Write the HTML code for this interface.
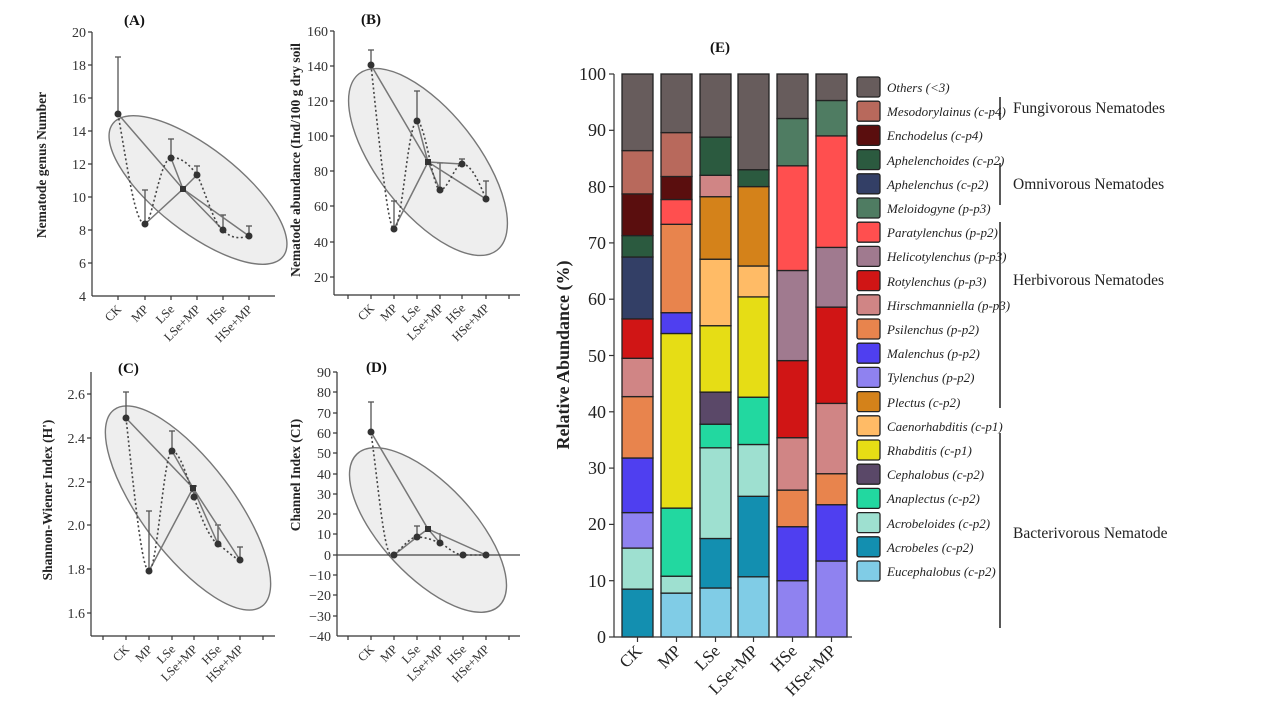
<!DOCTYPE html>
<html><head><meta charset="utf-8"><style>
html,body{margin:0;padding:0;background:#fff;}
svg{display:block;font-family:"Liberation Serif",serif;}
.t{font-size:14px;fill:#333;}
.xl{font-size:12.5px;fill:#333;}
.yl{font-size:13.5px;font-weight:bold;fill:#222;}
.ti{font-size:15px;font-weight:bold;fill:#111;}
.ax{stroke:#333;stroke-width:1.2;fill:none;}
.el{fill:#eeeeee;stroke:#777;stroke-width:1.4;}
.sl{stroke:#777;stroke-width:1.5;fill:none;}
.dl{stroke:#444;stroke-width:1.6;fill:none;stroke-dasharray:2,2.5;}
.eb{stroke:#555;stroke-width:1.3;}
.pt{fill:#333;}
.bar rect,.lg rect{stroke:#222;stroke-width:1.3;}
.oth{fill:#675c5c}.mes{fill:#b8695c}.enc{fill:#5a0e0e}.aph2{fill:#2b5a3f}.aph{fill:#333f66}.mel{fill:#4f7c62}.par{fill:#ff4f4f}.hel{fill:#a07a8f}.rot{fill:#d01515}.hir{fill:#d08585}.psi{fill:#e8844d}.mal{fill:#4f3ff0}.tyl{fill:#8f82f0}.ple{fill:#d4821a}.cae{fill:#ffbb66}.rha{fill:#e6dd15}.cep{fill:#5a4868}.ana{fill:#22d8a0}.acr2{fill:#9ee0d0}.acr{fill:#138fb0}.euc{fill:#80cce6}
.lt{font-size:13px;font-style:italic;fill:#222;}
.gt{font-size:15.5px;fill:#222;}
.et{font-size:18px;fill:#222;}
.ex{font-size:17px;fill:#222;}
</style></head><body>
<svg width="1267" height="713" viewBox="0 0 1267 713">
<!-- Panel A -->
<text class="ti" x="124" y="25">(A)</text>
<ellipse class="el" cx="198" cy="190" rx="108" ry="42" transform="rotate(38 198 190)"/>
<line class="ax" x1="92" y1="32" x2="92" y2="296"/><line class="ax" x1="92" y1="296" x2="275" y2="296"/>
<g class="ax"><line x1="88" y1="32" x2="92" y2="32"/><line x1="88" y1="65" x2="92" y2="65"/><line x1="88" y1="98" x2="92" y2="98"/><line x1="88" y1="131" x2="92" y2="131"/><line x1="88" y1="164" x2="92" y2="164"/><line x1="88" y1="197" x2="92" y2="197"/><line x1="88" y1="230" x2="92" y2="230"/><line x1="88" y1="263" x2="92" y2="263"/><line x1="118" y1="296" x2="118" y2="300"/><line x1="145" y1="296" x2="145" y2="300"/><line x1="171" y1="296" x2="171" y2="300"/><line x1="197" y1="296" x2="197" y2="300"/><line x1="223" y1="296" x2="223" y2="300"/><line x1="249" y1="296" x2="249" y2="300"/></g>
<g class="t" text-anchor="end"><text x="86" y="37">20</text><text x="86" y="70">18</text><text x="86" y="103">16</text><text x="86" y="136">14</text><text x="86" y="169">12</text><text x="86" y="202">10</text><text x="86" y="235">8</text><text x="86" y="268">6</text><text x="86" y="301">4</text></g>
<text class="yl" transform="translate(46,165) rotate(-90)" text-anchor="middle">Nematode genus Number</text>
<g class="eb"><line x1="118" y1="114" x2="118" y2="57"/><line x1="115" y1="57" x2="121" y2="57"/><line x1="145" y1="224" x2="145" y2="190"/><line x1="142" y1="190" x2="148" y2="190"/><line x1="171" y1="158" x2="171" y2="139"/><line x1="168" y1="139" x2="174" y2="139"/><line x1="197" y1="175" x2="197" y2="166"/><line x1="194" y1="166" x2="200" y2="166"/><line x1="223" y1="230" x2="223" y2="215"/><line x1="220" y1="215" x2="226" y2="215"/><line x1="249" y1="236" x2="249" y2="226"/><line x1="246" y1="226" x2="252" y2="226"/></g>
<path class="sl" d="M118 114L183 189L249 236M145 224L183 189L171 158M183 189L197 175M183 189L223 230"/>
<path class="dl" d="M118 114C128 170 135 224 145 224C152 224 160 158 171 158C182 156 192 168 197 175C205 190 214 225 223 230C232 240 242 238 249 236"/>
<g class="pt"><circle cx="118" cy="114" r="3.5"/><circle cx="145" cy="224" r="3.5"/><circle cx="171" cy="158" r="3.5"/><circle cx="197" cy="175" r="3.5"/><circle cx="223" cy="230" r="3.5"/><circle cx="249" cy="236" r="3.5"/><rect x="180" y="186" width="6" height="6"/></g>
<g class="xl" text-anchor="end"><text transform="translate(122,310) rotate(-45)">CK</text><text transform="translate(149,310) rotate(-45)">MP</text><text transform="translate(175,310) rotate(-45)">LSe</text><text transform="translate(201,310) rotate(-45)">LSe+MP</text><text transform="translate(227,310) rotate(-45)">HSe</text><text transform="translate(253,310) rotate(-45)">HSe+MP</text></g>

<!-- Panel B -->
<text class="ti" x="361" y="24">(B)</text>
<ellipse class="el" cx="428" cy="162" rx="112" ry="50" transform="rotate(52 428 162)"/>
<line class="ax" x1="334" y1="31" x2="334" y2="295"/><line class="ax" x1="334" y1="295" x2="520" y2="295"/>
<g class="ax"><line x1="330" y1="31" x2="334" y2="31"/><line x1="330" y1="66" x2="334" y2="66"/><line x1="330" y1="101" x2="334" y2="101"/><line x1="330" y1="136" x2="334" y2="136"/><line x1="330" y1="171" x2="334" y2="171"/><line x1="330" y1="206" x2="334" y2="206"/><line x1="330" y1="242" x2="334" y2="242"/><line x1="330" y1="277" x2="334" y2="277"/><line x1="348" y1="295" x2="348" y2="299"/><line x1="371" y1="295" x2="371" y2="299"/><line x1="394" y1="295" x2="394" y2="299"/><line x1="417" y1="295" x2="417" y2="299"/><line x1="440" y1="295" x2="440" y2="299"/><line x1="462" y1="295" x2="462" y2="299"/><line x1="486" y1="295" x2="486" y2="299"/><line x1="509" y1="295" x2="509" y2="299"/></g>
<g class="t" text-anchor="end"><text x="328" y="36">160</text><text x="328" y="71">140</text><text x="328" y="106">120</text><text x="328" y="141">100</text><text x="328" y="176">80</text><text x="328" y="211">60</text><text x="328" y="247">40</text><text x="328" y="282">20</text></g>
<text class="yl" transform="translate(300,160) rotate(-90)" text-anchor="middle">Nematode abundance (Ind/100 g dry soil</text>
<g class="eb"><line x1="371" y1="65" x2="371" y2="50"/><line x1="368" y1="50" x2="374" y2="50"/><line x1="394" y1="229" x2="394" y2="201"/><line x1="391" y1="201" x2="397" y2="201"/><line x1="417" y1="121" x2="417" y2="91"/><line x1="414" y1="91" x2="420" y2="91"/><line x1="440" y1="190" x2="440" y2="163"/><line x1="437" y1="163" x2="443" y2="163"/><line x1="462" y1="164" x2="462" y2="159"/><line x1="459" y1="159" x2="465" y2="159"/><line x1="486" y1="199" x2="486" y2="181"/><line x1="483" y1="181" x2="489" y2="181"/></g>
<path class="sl" d="M371 65L428 162L486 199M394 229L428 162L417 121M428 162L440 190M428 162L462 164"/>
<path class="dl" d="M371 65C380 150 388 229 394 229C402 229 408 121 417 121C425 121 433 190 440 190C448 190 455 164 462 164C472 164 480 185 486 199"/>
<g class="pt"><circle cx="371" cy="65" r="3.5"/><circle cx="394" cy="229" r="3.5"/><circle cx="417" cy="121" r="3.5"/><circle cx="440" cy="190" r="3.5"/><circle cx="462" cy="164" r="3.5"/><circle cx="486" cy="199" r="3.5"/><rect x="425" y="159" width="6" height="6"/></g>
<g class="xl" text-anchor="end"><text transform="translate(375,309) rotate(-45)">CK</text><text transform="translate(398,309) rotate(-45)">MP</text><text transform="translate(421,309) rotate(-45)">LSe</text><text transform="translate(444,309) rotate(-45)">LSe+MP</text><text transform="translate(466,309) rotate(-45)">HSe</text><text transform="translate(490,309) rotate(-45)">HSe+MP</text></g>

<!-- Panel C -->
<text class="ti" x="118" y="373">(C)</text>
<ellipse class="el" cx="188" cy="508" rx="123" ry="46" transform="rotate(53 188 508)"/>
<line class="ax" x1="91" y1="372" x2="91" y2="636"/><line class="ax" x1="91" y1="636" x2="275" y2="636"/>
<g class="ax"><line x1="87" y1="394" x2="91" y2="394"/><line x1="87" y1="438" x2="91" y2="438"/><line x1="87" y1="482" x2="91" y2="482"/><line x1="87" y1="525" x2="91" y2="525"/><line x1="87" y1="569" x2="91" y2="569"/><line x1="87" y1="613" x2="91" y2="613"/><line x1="103" y1="636" x2="103" y2="640"/><line x1="126" y1="636" x2="126" y2="640"/><line x1="149" y1="636" x2="149" y2="640"/><line x1="172" y1="636" x2="172" y2="640"/><line x1="194" y1="636" x2="194" y2="640"/><line x1="218" y1="636" x2="218" y2="640"/><line x1="240" y1="636" x2="240" y2="640"/><line x1="263" y1="636" x2="263" y2="640"/></g>
<g class="t" text-anchor="end"><text x="85" y="399">2.6</text><text x="85" y="443">2.4</text><text x="85" y="487">2.2</text><text x="85" y="530">2.0</text><text x="85" y="574">1.8</text><text x="85" y="618">1.6</text></g>
<text class="yl" transform="translate(52,500) rotate(-90)" text-anchor="middle">Shannon-Wiener Index (H')</text>
<g class="eb"><line x1="126" y1="418" x2="126" y2="392"/><line x1="123" y1="392" x2="129" y2="392"/><line x1="149" y1="571" x2="149" y2="511"/><line x1="146" y1="511" x2="152" y2="511"/><line x1="172" y1="451" x2="172" y2="431"/><line x1="169" y1="431" x2="175" y2="431"/><line x1="194" y1="497" x2="194" y2="486"/><line x1="191" y1="486" x2="197" y2="486"/><line x1="218" y1="544" x2="218" y2="525"/><line x1="215" y1="525" x2="221" y2="525"/><line x1="240" y1="560" x2="240" y2="547"/><line x1="237" y1="547" x2="243" y2="547"/></g>
<path class="sl" d="M126 418L193 488L240 560M149 571L193 488L172 451M193 488L194 497M193 488L218 544"/>
<path class="dl" d="M126 418C135 500 142 571 149 571C157 571 164 451 172 451C180 451 188 480 194 497C200 515 210 540 218 544C226 550 234 558 240 560"/>
<g class="pt"><circle cx="126" cy="418" r="3.5"/><circle cx="149" cy="571" r="3.5"/><circle cx="172" cy="451" r="3.5"/><circle cx="194" cy="497" r="3.5"/><circle cx="218" cy="544" r="3.5"/><circle cx="240" cy="560" r="3.5"/><rect x="190" y="485" width="6" height="6"/></g>
<g class="xl" text-anchor="end"><text transform="translate(130,650) rotate(-45)">CK</text><text transform="translate(153,650) rotate(-45)">MP</text><text transform="translate(176,650) rotate(-45)">LSe</text><text transform="translate(198,650) rotate(-45)">LSe+MP</text><text transform="translate(222,650) rotate(-45)">HSe</text><text transform="translate(244,650) rotate(-45)">HSe+MP</text></g>

<!-- Panel D -->
<text class="ti" x="366" y="372">(D)</text>
<ellipse class="el" cx="428" cy="530" rx="104" ry="46" transform="rotate(47 428 530)"/>
<line class="ax" x1="337" y1="372" x2="337" y2="636"/><line class="ax" x1="337" y1="636" x2="520" y2="636"/>
<line x1="337" y1="555" x2="520" y2="555" stroke="#444" stroke-width="1.3"/>
<g class="ax"><line x1="333" y1="372" x2="337" y2="372"/><line x1="333" y1="392" x2="337" y2="392"/><line x1="333" y1="413" x2="337" y2="413"/><line x1="333" y1="433" x2="337" y2="433"/><line x1="333" y1="453" x2="337" y2="453"/><line x1="333" y1="474" x2="337" y2="474"/><line x1="333" y1="494" x2="337" y2="494"/><line x1="333" y1="514" x2="337" y2="514"/><line x1="333" y1="534" x2="337" y2="534"/><line x1="333" y1="555" x2="337" y2="555"/><line x1="333" y1="575" x2="337" y2="575"/><line x1="333" y1="595" x2="337" y2="595"/><line x1="333" y1="616" x2="337" y2="616"/><line x1="348" y1="636" x2="348" y2="640"/><line x1="371" y1="636" x2="371" y2="640"/><line x1="394" y1="636" x2="394" y2="640"/><line x1="417" y1="636" x2="417" y2="640"/><line x1="440" y1="636" x2="440" y2="640"/><line x1="463" y1="636" x2="463" y2="640"/><line x1="486" y1="636" x2="486" y2="640"/><line x1="509" y1="636" x2="509" y2="640"/></g>
<g class="t" text-anchor="end"><text x="331" y="377">90</text><text x="331" y="397">80</text><text x="331" y="418">70</text><text x="331" y="438">60</text><text x="331" y="458">50</text><text x="331" y="479">40</text><text x="331" y="499">30</text><text x="331" y="519">20</text><text x="331" y="539">10</text><text x="331" y="560">0</text><text x="331" y="580">−10</text><text x="331" y="600">−20</text><text x="331" y="621">−30</text><text x="331" y="641">−40</text></g>
<text class="yl" transform="translate(300,475) rotate(-90)" text-anchor="middle">Channel Index (CI)</text>
<g class="eb"><line x1="371" y1="432" x2="371" y2="402"/><line x1="368" y1="402" x2="374" y2="402"/><line x1="417" y1="537" x2="417" y2="526"/><line x1="414" y1="526" x2="420" y2="526"/><line x1="440" y1="543" x2="440" y2="533"/></g>
<path class="sl" d="M371 432L428 529L486 555M394 555L417 537L428 529L440 543"/>
<path class="dl" d="M371 432C380 500 385 565 394 555C402 548 410 537 417 537C425 537 433 540 440 543C448 547 455 555 463 555L486 555"/>
<g class="pt"><circle cx="371" cy="432" r="3.5"/><circle cx="394" cy="555" r="3.5"/><circle cx="417" cy="537" r="3.5"/><circle cx="440" cy="543" r="3.5"/><circle cx="463" cy="555" r="3.5"/><circle cx="486" cy="555" r="3.5"/><rect x="425" y="526" width="6" height="6"/></g>
<g class="xl" text-anchor="end"><text transform="translate(375,650) rotate(-45)">CK</text><text transform="translate(398,650) rotate(-45)">MP</text><text transform="translate(421,650) rotate(-45)">LSe</text><text transform="translate(444,650) rotate(-45)">LSe+MP</text><text transform="translate(467,650) rotate(-45)">HSe</text><text transform="translate(490,650) rotate(-45)">HSe+MP</text></g>

<!-- Panel E -->
<text class="ti" x="720" y="52" text-anchor="middle">(E)</text>
<g class="bar">
<rect class="acr" x="622" y="589.1" width="31" height="47.9"/><rect class="acr2" x="622" y="548" width="31" height="41.1"/><rect class="tyl" x="622" y="512.6" width="31" height="35.5"/><rect class="mal" x="622" y="458" width="31" height="54.6"/><rect class="psi" x="622" y="396.6" width="31" height="61.4"/><rect class="hir" x="622" y="358.3" width="31" height="38.3"/><rect class="rot" x="622" y="318.9" width="31" height="39.4"/><rect class="aph" x="622" y="257" width="31" height="61.9"/><rect class="aph2" x="622" y="235.6" width="31" height="21.4"/><rect class="enc" x="622" y="193.9" width="31" height="41.7"/><rect class="mes" x="622" y="150.6" width="31" height="43.3"/><rect class="oth" x="622" y="74" width="31" height="76.6"/>
<rect class="euc" x="661" y="593.1" width="31" height="43.9"/><rect class="acr2" x="661" y="576.2" width="31" height="16.9"/><rect class="ana" x="661" y="508.1" width="31" height="68.1"/><rect class="rha" x="661" y="333.5" width="31" height="174.6"/><rect class="mal" x="661" y="312.7" width="31" height="20.8"/><rect class="psi" x="661" y="224.3" width="31" height="88.4"/><rect class="par" x="661" y="199.5" width="31" height="24.8"/><rect class="enc" x="661" y="176.5" width="31" height="23"/><rect class="mes" x="661" y="132.6" width="31" height="43.9"/><rect class="oth" x="661" y="74" width="31" height="58.6"/>
<rect class="euc" x="700" y="588" width="31" height="49"/><rect class="acr" x="700" y="538.5" width="31" height="49.5"/><rect class="acr2" x="700" y="447.8" width="31" height="90.7"/><rect class="ana" x="700" y="424.2" width="31" height="23.6"/><rect class="cep" x="700" y="392.1" width="31" height="32.1"/><rect class="rha" x="700" y="325.7" width="31" height="66.4"/><rect class="cae" x="700" y="259.2" width="31" height="66.5"/><rect class="ple" x="700" y="196.7" width="31" height="62.5"/><rect class="hir" x="700" y="175.3" width="31" height="21.4"/><rect class="aph2" x="700" y="137.1" width="31" height="38.2"/><rect class="oth" x="700" y="74" width="31" height="63.1"/>
<rect class="euc" x="738" y="576.8" width="31" height="60.2"/><rect class="acr" x="738" y="496.3" width="31" height="80.5"/><rect class="acr2" x="738" y="444.5" width="31" height="51.8"/><rect class="ana" x="738" y="397.2" width="31" height="47.3"/><rect class="rha" x="738" y="296.9" width="31" height="100.3"/><rect class="cae" x="738" y="266" width="31" height="30.9"/><rect class="ple" x="738" y="186.6" width="31" height="79.4"/><rect class="aph2" x="738" y="169.7" width="31" height="16.9"/><rect class="oth" x="738" y="74" width="31" height="95.7"/>
<rect class="tyl" x="777" y="580.7" width="31" height="56.3"/><rect class="mal" x="777" y="526.7" width="31" height="54"/><rect class="psi" x="777" y="490.1" width="31" height="36.6"/><rect class="hir" x="777" y="437.7" width="31" height="52.4"/><rect class="rot" x="777" y="360.6" width="31" height="77.1"/><rect class="hel" x="777" y="270.5" width="31" height="90.1"/><rect class="par" x="777" y="165.8" width="31" height="104.7"/><rect class="mel" x="777" y="118.5" width="31" height="47.3"/><rect class="oth" x="777" y="74" width="31" height="44.5"/>
<rect class="tyl" x="816" y="561" width="31" height="76"/><rect class="mal" x="816" y="504.7" width="31" height="56.3"/><rect class="psi" x="816" y="473.7" width="31" height="31"/><rect class="hir" x="816" y="403.4" width="31" height="70.3"/><rect class="rot" x="816" y="307.1" width="31" height="96.3"/><rect class="hel" x="816" y="247.4" width="31" height="59.7"/><rect class="par" x="816" y="135.9" width="31" height="111.5"/><rect class="mel" x="816" y="100.5" width="31" height="35.4"/><rect class="oth" x="816" y="74" width="31" height="26.5"/>
</g>
<line class="ax" x1="614" y1="74" x2="614" y2="637" stroke-width="1.5"/><line class="ax" x1="614" y1="637" x2="852" y2="637" stroke-width="1.5"/>
<g class="ax"><line x1="609" y1="74" x2="614" y2="74"/><line x1="609" y1="130.3" x2="614" y2="130.3"/><line x1="609" y1="186.6" x2="614" y2="186.6"/><line x1="609" y1="242.9" x2="614" y2="242.9"/><line x1="609" y1="299.2" x2="614" y2="299.2"/><line x1="609" y1="355.5" x2="614" y2="355.5"/><line x1="609" y1="411.8" x2="614" y2="411.8"/><line x1="609" y1="468.1" x2="614" y2="468.1"/><line x1="609" y1="524.4" x2="614" y2="524.4"/><line x1="609" y1="580.7" x2="614" y2="580.7"/><line x1="609" y1="637" x2="614" y2="637"/><line x1="637.5" y1="637" x2="637.5" y2="642"/><line x1="676.5" y1="637" x2="676.5" y2="642"/><line x1="715.5" y1="637" x2="715.5" y2="642"/><line x1="753.5" y1="637" x2="753.5" y2="642"/><line x1="792.5" y1="637" x2="792.5" y2="642"/><line x1="831.5" y1="637" x2="831.5" y2="642"/></g>
<g class="et" text-anchor="end"><text x="606" y="80">100</text><text x="606" y="136">90</text><text x="606" y="193">80</text><text x="606" y="249">70</text><text x="606" y="305">60</text><text x="606" y="362">50</text><text x="606" y="418">40</text><text x="606" y="474">30</text><text x="606" y="530">20</text><text x="606" y="587">10</text><text x="606" y="643">0</text></g>
<text transform="translate(569,355) rotate(-90)" text-anchor="middle" style="font-size:18px;font-weight:bold;fill:#222">Relative Abundance (%)</text>
<g class="ex" text-anchor="end"><text transform="translate(643,652) rotate(-45)">CK</text><text transform="translate(682,652) rotate(-45)">MP</text><text transform="translate(721,652) rotate(-45)">LSe</text><text transform="translate(759,652) rotate(-45)">LSe+MP</text><text transform="translate(798,652) rotate(-45)">HSe</text><text transform="translate(837,652) rotate(-45)">HSe+MP</text></g>

<!-- Legend -->
<g class="lg">
<rect class="oth" x="857" y="77" width="23" height="20" rx="2"/><rect class="mes" x="857" y="101.2" width="23" height="20" rx="2"/><rect class="enc" x="857" y="125.4" width="23" height="20" rx="2"/><rect class="aph2" x="857" y="149.6" width="23" height="20" rx="2"/><rect class="aph" x="857" y="173.8" width="23" height="20" rx="2"/><rect class="mel" x="857" y="198" width="23" height="20" rx="2"/><rect class="par" x="857" y="222.2" width="23" height="20" rx="2"/><rect class="hel" x="857" y="246.4" width="23" height="20" rx="2"/><rect class="rot" x="857" y="270.6" width="23" height="20" rx="2"/><rect class="hir" x="857" y="294.8" width="23" height="20" rx="2"/><rect class="psi" x="857" y="319" width="23" height="20" rx="2"/><rect class="mal" x="857" y="343.2" width="23" height="20" rx="2"/><rect class="tyl" x="857" y="367.4" width="23" height="20" rx="2"/><rect class="ple" x="857" y="391.6" width="23" height="20" rx="2"/><rect class="cae" x="857" y="415.8" width="23" height="20" rx="2"/><rect class="rha" x="857" y="440" width="23" height="20" rx="2"/><rect class="cep" x="857" y="464.2" width="23" height="20" rx="2"/><rect class="ana" x="857" y="488.4" width="23" height="20" rx="2"/><rect class="acr2" x="857" y="512.6" width="23" height="20" rx="2"/><rect class="acr" x="857" y="536.8" width="23" height="20" rx="2"/><rect class="euc" x="857" y="561" width="23" height="20" rx="2"/>
</g>
<g class="lt">
<text x="887" y="92">Others (&lt;3)</text><text x="887" y="116">Mesodorylainus (c-p4)</text><text x="887" y="140">Enchodelus (c-p4)</text><text x="887" y="165">Aphelenchoides (c-p2)</text><text x="887" y="189">Aphelenchus (c-p2)</text><text x="887" y="213">Meloidogyne (p-p3)</text><text x="887" y="237">Paratylenchus (p-p2)</text><text x="887" y="261">Helicotylenchus (p-p3)</text><text x="887" y="286">Rotylenchus (p-p3)</text><text x="887" y="310">Hirschmanniella (p-p3)</text><text x="887" y="334">Psilenchus (p-p2)</text><text x="887" y="358">Malenchus (p-p2)</text><text x="887" y="382">Tylenchus (p-p2)</text><text x="887" y="407">Plectus (c-p2)</text><text x="887" y="431">Caenorhabditis (c-p1)</text><text x="887" y="455">Rhabditis (c-p1)</text><text x="887" y="479">Cephalobus (c-p2)</text><text x="887" y="503">Anaplectus (c-p2)</text><text x="887" y="528">Acrobeloides (c-p2)</text><text x="887" y="552">Acrobeles (c-p2)</text><text x="887" y="576">Eucephalobus (c-p2)</text>
</g>
<g stroke="#222" stroke-width="1.5"><line x1="1000" y1="97" x2="1000" y2="120"/><line x1="1000" y1="163" x2="1000" y2="205"/><line x1="1000" y1="222" x2="1000" y2="408"/><line x1="1000" y1="433" x2="1000" y2="628"/></g>
<g class="gt"><text x="1013" y="113">Fungivorous Nematodes</text><text x="1013" y="189">Omnivorous Nematodes</text><text x="1013" y="285">Herbivorous Nematodes</text><text x="1013" y="538">Bacterivorous Nematode</text></g>
</svg>
</body></html>
